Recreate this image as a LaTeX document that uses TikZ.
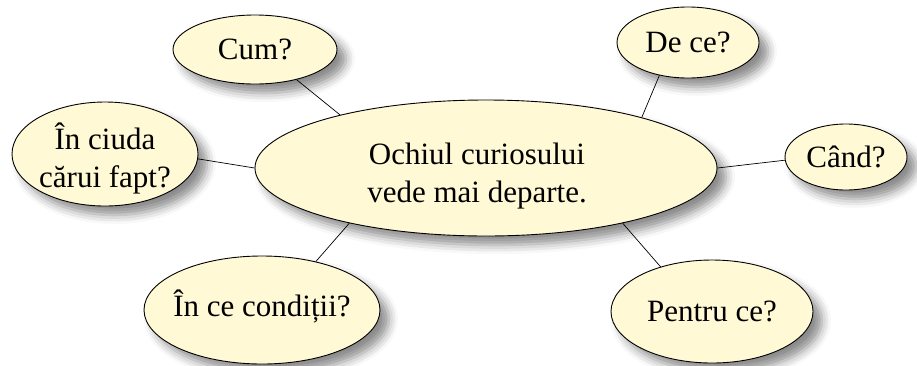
\documentclass[tikz,border=0pt]{standalone}
\usepackage{fontspec}
\setmainfont{Liberation Serif}
\usetikzlibrary{shapes.geometric,shadows.blur}
\definecolor{bubfill}{RGB}{255,249,214}
\tikzset{
  bub/.style={ellipse, draw=black, line width=0.9pt, fill=bubfill, inner sep=0pt,
    blur shadow={shadow xshift=9pt, shadow yshift=-9pt, shadow blur radius=9pt, shadow opacity=45}},
  txt/.style={align=center, font=\fontsize{31}{38}\selectfont, inner sep=0pt},
  conn/.style={draw=black, line width=0.7pt}
}
\begin{document}
\begin{tikzpicture}[x=1pt,y=-1pt]
\useasboundingbox (0,0) rectangle (917,365);
\node[bub, minimum width=462pt, minimum height=136pt] (c) at (486,168) {};
\node[txt] at ([xshift=-9pt,yshift=-8pt]c.center) {Ochiul curiosului\\vede mai departe.};
\node[bub, minimum width=164pt, minimum height=69pt] (cum) at (255,49.5) {};
\node[txt] at (cum) {Cum?};
\node[bub, minimum width=142pt, minimum height=71pt] (dece) at (688,42.5) {};
\node[txt] at (dece) {De ce?};
\node[bub, minimum width=186pt, minimum height=104pt] (ciuda) at (105,154) {};
\node[txt] at ([yshift=-4pt]ciuda.center) {În ciuda\\cărui fapt?};
\node[bub, minimum width=122pt, minimum height=66pt] (cand) at (846,157) {};
\node[txt] at (cand) {Când?};
\node[bub, minimum width=236pt, minimum height=108pt] (cond) at (262,310) {};
\node[txt] at ([yshift=4pt]cond.center) {În ce condiții?};
\node[bub, minimum width=202pt, minimum height=103pt] (pentru) at (712,311.5) {};
\node[txt] at (pentru) {Pentru ce?};
\draw[conn] (cum.-36.9) -- (c.160.8);
\draw[conn] (dece.229.8) -- (c.18.9);
\draw[conn] (ciuda.-3) -- (c.180);
\draw[conn] (cand.183.9) -- (c.0.3);
\draw[conn] (cond.42.4) -- (c.202.4);
\draw[conn] (pentru.139.4) -- (c.-22);
\end{tikzpicture}
\end{document}
